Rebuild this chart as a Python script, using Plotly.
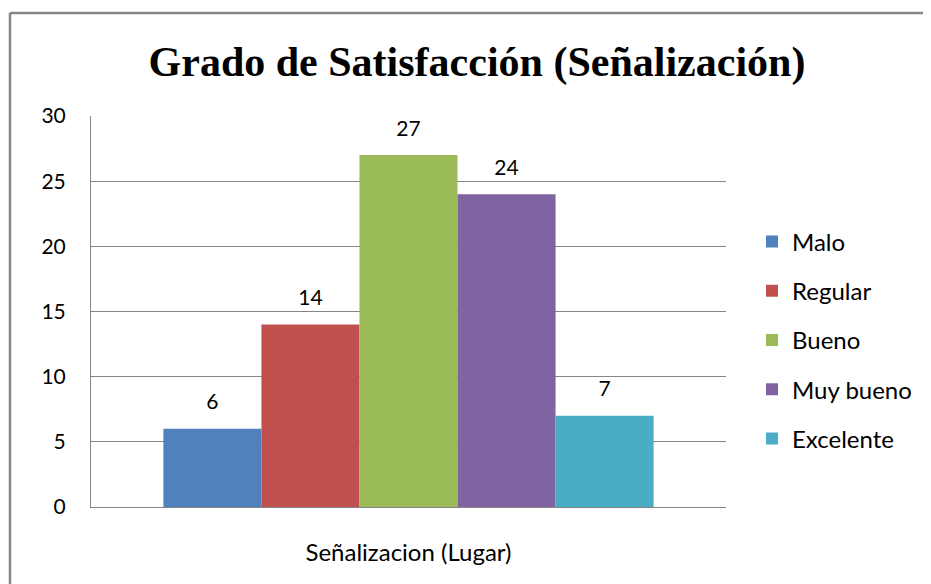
import plotly.graph_objects as go

category = ["Señalizacion (Lugar)"]
series_names = ["Malo", "Regular", "Bueno", "Muy bueno", "Excelente"]
series_values = [6, 14, 27, 24, 7]
colors = ["#4F81BD", "#C0504D", "#9BBB59", "#8064A2", "#4BACC6"]
y_ticks = [0, 5, 10, 15, 20, 25, 30]

FONT = "Lato, Noto Sans, sans-serif"
GAP = 0.228

fig = go.Figure()
for name, val, col in zip(series_names, series_values, colors):
    fig.add_trace(go.Bar(
        x=category, y=[val], name=name, legendgroup=name,
        marker=dict(color=col, line=dict(width=0)),
        hoverinfo="x+y+name",
    ))
# value labels, grouped like the bars
for name, val in zip(series_names, series_values):
    fig.add_trace(go.Scatter(
        x=category, y=[val], mode="markers+text", text=[str(val)],
        textposition="top center", showlegend=False, legendgroup=name,
        marker=dict(size=21, color="rgba(0,0,0,0)"), cliponaxis=False,
        textfont=dict(family=FONT, size=21, color="#000000"), hoverinfo="skip",
    ))

# page body has an 8px margin: figure sits at (8, 8) in the window
OFF = 8
W, H = 931 - OFF, 584 - OFF
L, R, T, B = 91 - OFF, 205, 116 - OFF, 77
PW, PH = W - L - R, H - T - B

fig.update_layout(
    width=W, height=H,
    margin=dict(l=L, r=R, t=T, b=B, pad=0),
    paper_bgcolor="white", plot_bgcolor="white",
    barmode="group", bargap=GAP, bargroupgap=0,
    scattermode="group", scattergap=GAP,
    title=dict(text="<b>Grado de Satisfacción (Señalización)</b>",
               font=dict(family="Liberation Serif, Times New Roman, serif", size=42, color="#000000"),
               x=(477 - OFF - L) / PW, xanchor="center", xref="paper",
               y=1 - (61 - OFF) / H, yanchor="middle"),
    showlegend=True,
    legend=dict(x=1 + 26 / PW, xanchor="left", xref="paper",
                y=1 - (340 - OFF - T) / PH, yanchor="middle",
                traceorder="grouped", tracegroupgap=15,
                font=dict(family=FONT, size=24, color="#000000"),
                bgcolor="rgba(0,0,0,0)", itemclick=False),
    font=dict(family=FONT, size=21, color="#000000"),
    shapes=[
        dict(type="line", xref="paper", yref="paper",
             x0=-(L - 2) / PW, x1=(W - L) / PW,
             y0=1 + (T - 5) / PH, y1=1 + (T - 5) / PH,
             line=dict(color="#868686", width=2.5)),
        dict(type="line", xref="paper", yref="paper",
             x0=-(L - 2) / PW, x1=-(L - 2) / PW,
             y0=1 + (T - 5) / PH, y1=-B / PH,
             line=dict(color="#868686", width=2.5)),
    ],
)

fig.update_yaxes(range=[0, 30], tickvals=y_ticks, ticktext=[str(v) for v in y_ticks],
                 showgrid=True, gridcolor="#868686", gridwidth=1,
                 showline=True, linecolor="#868686", linewidth=1,
                 ticks="", ticklabelstandoff=20, zeroline=False,
                 tickfont=dict(family=FONT, size=21, color="#000000"))
fig.update_xaxes(showline=True, linecolor="#868686", linewidth=1,
                 ticks="", ticklabelstandoff=24, showgrid=False,
                 tickfont=dict(family=FONT, size=24, color="#000000"))

fig.write_html("out.html")
